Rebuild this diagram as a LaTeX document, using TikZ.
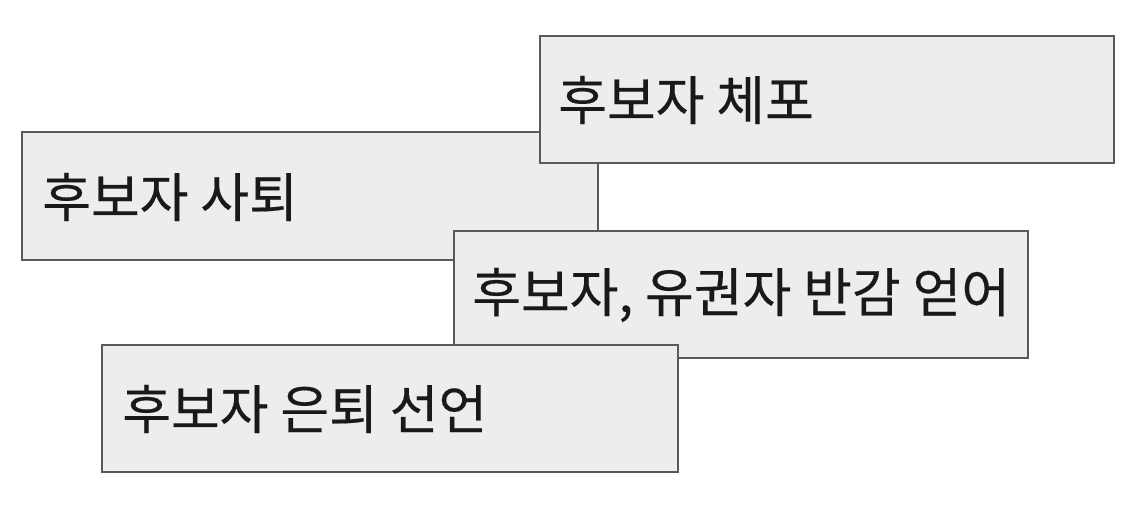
\documentclass[tikz,border=0pt]{standalone}
\usepackage{fontspec}
\newfontfamily\cjk{Noto Sans CJK KR}[FakeBold=0.3]
\begin{document}
\begin{tikzpicture}[x=1pt,y=-1pt,
  box/.style={draw=black!65,line width=1.5pt,fill=black!7},
  lbl/.style={anchor=west,inner sep=0pt,font=\cjk\fontsize{53}{60}\selectfont,text=black!90}]
\fill[white] (0,0) rectangle (1125,509);
\useasboundingbox (0,0) rectangle (1125,509);
\draw[box] (22,132) rectangle (598,260);
\node[lbl] (b) at (42,197) {후보자 사퇴};
\draw[box] (540,36) rectangle (1114,163);
\node[lbl] (a) at (558,100) {후보자 체포};
\draw[box] (454,231) rectangle (1028,358);
\node[lbl] (c) at (472,295) {후보자, 유권자 반감 얻어};
\draw[box] (102,345) rectangle (678,472);
\node[lbl] (d) at (122,409) {후보자 은퇴 선언};
\end{tikzpicture}
\end{document}
